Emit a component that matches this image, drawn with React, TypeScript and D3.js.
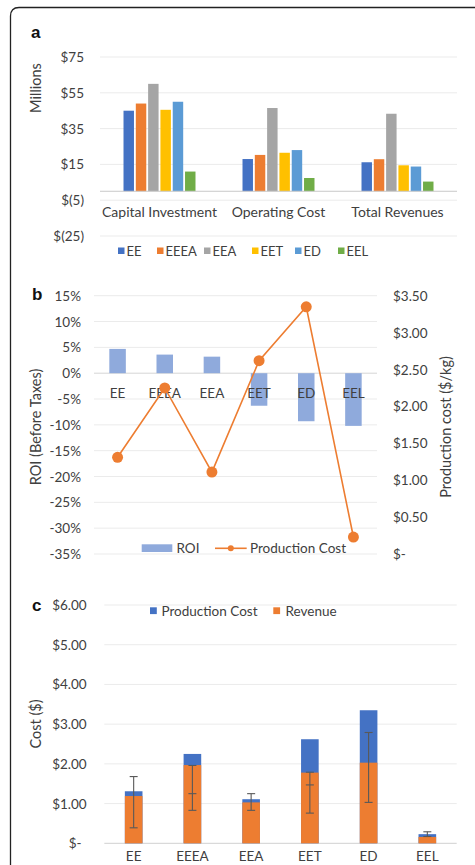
import React from "react";
import { scaleBand, scaleLinear, line } from "d3";

// scenarios shared by all three panels
const scenarios = ["EE", "EEEA", "EEA", "EET", "ED", "EEL"];
const scenarioColors = ["#4472C4", "#ED7D31", "#A5A5A5", "#FFC000", "#5B9BD5", "#70AD47"];

// panel a: economics in $ millions
const metrics = ["Capital Investment", "Operating Cost", "Total Revenues"];
const capitalInvestment = [45, 49, 60, 45.5, 50, 11];
const operatingCost = [18, 20.3, 46.5, 21.5, 23, 7.4];
const totalRevenues = [16.2, 17.9, 43.3, 14.5, 13.8, 5.4];
const millionTicks = [-25, -5, 15, 35, 55, 75];

// panel b: return on investment and production cost
const roi = [4.7, 3.6, 3.2, -6.3, -9.3, -10.2];
const productionCost = [1.31, 2.25, 1.11, 2.62, 3.35, 0.23];
const roiTicks = [15, 10, 5, 0, -5, -10, -15, -20, -25, -30, -35];
const costTicks = [0, 0.5, 1, 1.5, 2, 2.5, 3, 3.5];

// panel c: revenue against production cost, $/kg
const revenue = [1.19, 1.97, 1.03, 1.78, 2.03, 0.16];
const errLow = [0.39, 0.83, 0.83, 0.76, 1.03, 0.17];
const errHigh = [1.68, 1.96, 1.25, 1.79, 2.79, 0.29];
const errMid: (number | null)[] = [null, 1.25, null, 1.47, null, null];
const dollarTicks = [0, 1, 2, 3, 4, 5, 6];

const FONT = "Lato, 'Open Sans', sans-serif";
const TXT = "#404040";
const GRID = "#ebebeb";

const millions = (v: number) => (v < 0 ? `$(${-v})` : `$${v}`);
const dollars = (v: number) => (v === 0 ? "$-" : `$${v.toFixed(2)}`);

function PanelA() {
  const x = scaleBand<string>().domain(metrics).range([100, 457]).paddingInner(0.395).paddingOuter(0.1975);
  const xs = scaleBand<string>().domain(scenarios).range([0, x.bandwidth()]).paddingInner(0.15);
  const y = scaleLinear().domain([-25, 75]).range([236, 57]);
  const rows = [capitalInvestment, operatingCost, totalRevenues];
  const legendX = [118, 157, 204, 252, 295, 338];
  return (
    <g>
      <text x={31} y={38} fontFamily="'Liberation Sans', Arial" fontWeight="bold" fontSize={17} fill="#111">a</text>
      <text transform={`translate(41,88) rotate(-90)`} textAnchor="middle" fontSize={14.5} fill={TXT}>Millions</text>
      {millionTicks.map((t) => (
        <g key={t}>
          <line x1={100} x2={457} y1={y(t)} y2={y(t)} stroke={GRID} />
          <text x={84} y={y(t)} textAnchor="end" dominantBaseline="central" fontSize={13.5} fill={TXT}>{millions(t)}</text>
        </g>
      ))}
      {metrics.map((m, i) => (
        <g key={m} transform={`translate(${x(m)},0)`}>
          {scenarios.map((s, j) => (
            <rect key={s} x={xs(s)} width={xs.bandwidth()} y={y(rows[i][j])} height={y(0) - y(rows[i][j])} fill={scenarioColors[j]} />
          ))}
        </g>
      ))}
      <line x1={100} x2={457} y1={y(0)} y2={y(0)} stroke="#c8c8c8" />
      {metrics.map((m) => (
        <text key={m} x={(x(m) ?? 0) + x.bandwidth() / 2} y={211} textAnchor="middle" dominantBaseline="central" fontSize={14} fill={TXT}>{m}</text>
      ))}
      {scenarios.map((s, j) => (
        <g key={s}>
          <rect x={legendX[j]} y={247.5} width={6.5} height={6.5} fill={scenarioColors[j]} />
          <text x={legendX[j] + 8.5} y={251} dominantBaseline="central" fontSize={13} fill={TXT}>{s}</text>
        </g>
      ))}
    </g>
  );
}

function PanelB() {
  const x = scaleBand<string>().domain(scenarios).range([94, 377]).paddingInner(0.65).paddingOuter(0.325);
  const yl = scaleLinear().domain([-35, 15]).range([554, 295.7]);
  const yr = scaleLinear().domain([0, 3.5]).range([554, 295.7]);
  const cx = (s: string) => (x(s) ?? 0) + x.bandwidth() / 2;
  const path = line<number>().x((_, i) => cx(scenarios[i])).y((d) => yr(d))(productionCost) ?? "";
  return (
    <g>
      <text x={32} y={300} fontFamily="'Liberation Sans', Arial" fontWeight="bold" fontSize={17} fill="#111">b</text>
      <text transform={`translate(41,427) rotate(-90)`} textAnchor="middle" fontSize={14.5} fill={TXT}>ROI (Before Taxes)</text>
      <text transform={`translate(451,427) rotate(-90)`} textAnchor="middle" fontSize={14.5} fill={TXT}>Production cost ($/kg)</text>
      {roiTicks.map((t) => (
        <g key={t}>
          <line x1={94} x2={377} y1={yl(t)} y2={yl(t)} stroke={t === 0 ? "#d6d6d6" : GRID} />
          <text x={81} y={yl(t)} textAnchor="end" dominantBaseline="central" fontSize={13.5} fill={TXT}>{`${t}%`}</text>
        </g>
      ))}
      {costTicks.map((t) => (
        <text key={t} x={393} y={yr(t)} dominantBaseline="central" fontSize={13.5} fill={TXT}>{dollars(t)}</text>
      ))}
      {scenarios.map((s, i) => (
        <rect key={s} x={x(s)} width={x.bandwidth()} y={Math.min(yl(roi[i]), yl(0))} height={Math.abs(yl(roi[i]) - yl(0))} fill="#8FAADC" />
      ))}
      {scenarios.map((s) => (
        <text key={s} x={cx(s)} y={392.5} textAnchor="middle" dominantBaseline="central" fontSize={13.5} fill={TXT}>{s}</text>
      ))}
      <path d={path} fill="none" stroke="#ED7D31" strokeWidth={1.6} />
      {productionCost.map((v, i) => (
        <circle key={i} cx={cx(scenarios[i])} cy={yr(v)} r={5.5} fill="#ED7D31" />
      ))}
      <rect x={141.7} y={544.3} width={30.6} height={7.7} fill="#8FAADC" />
      <text x={176.5} y={548.3} dominantBaseline="central" fontSize={13.5} fill={TXT}>ROI</text>
      <line x1={215} x2={246.7} y1={548.3} y2={548.3} stroke="#ED7D31" strokeWidth={1.6} />
      <circle cx={230.8} cy={548.3} r={3} fill="#ED7D31" />
      <text x={250} y={548.3} dominantBaseline="central" fontSize={13.5} fill={TXT}>Production Cost</text>
    </g>
  );
}

function PanelC() {
  const x = scaleBand<string>().domain(scenarios).range([104.3, 456.7]).paddingInner(0.7).paddingOuter(0.35);
  const y = scaleLinear().domain([0, 6]).range([843.3, 605]);
  const cx = (s: string) => (x(s) ?? 0) + x.bandwidth() / 2;
  const cap = (s: string, v: number, k: string) => (
    <line key={k} x1={cx(s) - 4} x2={cx(s) + 4} y1={y(v)} y2={y(v)} stroke="#595959" strokeWidth={1.1} />
  );
  return (
    <g>
      <text x={32} y={611} fontFamily="'Liberation Sans', Arial" fontWeight="bold" fontSize={17} fill="#111">c</text>
      <text transform={`translate(41,724) rotate(-90)`} textAnchor="middle" fontSize={14.5} fill={TXT}>Cost ($)</text>
      {dollarTicks.map((t) => (
        <g key={t}>
          <line x1={104.3} x2={456.7} y1={y(t)} y2={y(t)} stroke={t === 0 ? "#d0d0d0" : GRID} />
          <text x={t === 0 ? 81.5 : 86.7} y={y(t)} textAnchor="end" dominantBaseline="central" fontSize={13.5} fill={TXT}>{dollars(t)}</text>
        </g>
      ))}
      {scenarios.map((s, i) => (
        <g key={s}>
          <rect x={x(s)} width={x.bandwidth()} y={y(productionCost[i])} height={y(0) - y(productionCost[i])} fill="#4472C4" />
          <rect x={x(s)} width={x.bandwidth()} y={y(revenue[i])} height={y(0) - y(revenue[i])} fill="#ED7D31" />
        </g>
      ))}
      {scenarios.map((s, i) => (
        <g key={s}>
          <line x1={cx(s)} x2={cx(s)} y1={y(errLow[i])} y2={y(errHigh[i])} stroke="#595959" strokeWidth={1.1} />
          {cap(s, errLow[i], "lo")}
          {cap(s, errHigh[i], "hi")}
          {errMid[i] !== null && cap(s, errMid[i] as number, "mid")}
        </g>
      ))}
      {scenarios.map((s) => (
        <text key={s} x={cx(s)} y={855.7} textAnchor="middle" dominantBaseline="central" fontSize={13.5} fill={TXT}>{s}</text>
      ))}
      <rect x={150} y={607.3} width={6.8} height={6.8} fill="#4472C4" />
      <text x={161.5} y={610.7} dominantBaseline="central" fontSize={13.5} fill={TXT}>Production Cost</text>
      <rect x={273.3} y={607.3} width={6.8} height={6.8} fill="#ED7D31" />
      <text x={285.5} y={610.7} dominantBaseline="central" fontSize={13.5} fill={TXT}>Revenue</text>
    </g>
  );
}

export default function App() {
  return (
    <svg width={475} height={865} style={{ position: "absolute", left: 0, top: 0, background: "#fff" }} fontFamily={FONT}>
      <rect width={475} height={865} fill="#fff" />
      <path d="M10.5,880 V16 Q10.5,7.5 19,7.5 H490" fill="none" stroke="#222" strokeWidth={1.3} />
      <PanelA />
      <PanelB />
      <PanelC />
    </svg>
  );
}
